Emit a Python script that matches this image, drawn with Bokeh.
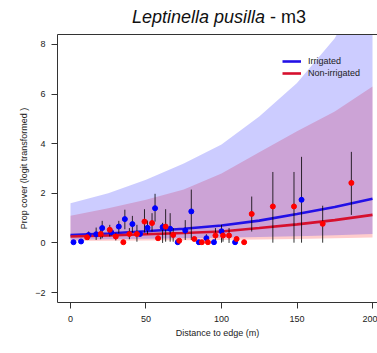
from bokeh.plotting import figure
from bokeh.layouts import column
from bokeh.models import (LinearAxis, FixedTicker, Legend, LegendItem, Range1d, Div)
from bokeh.embed import file_html
from bokeh.resources import INLINE

# ---- fitted curves and confidence bands ----
fit_x = [0, 25, 50, 75, 100, 125, 150, 175, 200]
irr_fit = [0.32, 0.38, 0.47, 0.57, 0.70, 0.90, 1.17, 1.45, 1.78]
irr_lo = [0.13, 0.15, 0.17, 0.19, 0.21, 0.24, 0.27, 0.31, 0.36]
irr_hi = [1.60, 2.00, 2.55, 3.20, 3.97, 5.10, 6.45, 8.25, 11.00]
non_fit = [0.26, 0.30, 0.35, 0.40, 0.46, 0.60, 0.75, 0.92, 1.13]
non_lo = [0.08, 0.09, 0.10, 0.11, 0.12, 0.14, 0.16, 0.19, 0.22]
non_hi = [1.10, 1.40, 1.74, 2.15, 2.80, 3.65, 4.50, 5.30, 6.30]

# ---- observed means with error bars ----
irr_x = [2, 7, 12, 17, 21, 27, 32, 36, 41, 46, 51, 56, 61, 66, 71, 76, 80, 85, 90, 95, 100, 109, 153]
irr_y = [0.03, 0.06, 0.32, 0.35, 0.60, 0.43, 0.66, 0.96, 0.76, 0.36, 0.61, 1.40, 0.64, 0.57,
         0.03, 0.50, 1.27, 0.03, 0.19, 0.03, 0.47, 0.03, 1.74]
irr_bar_lo = [0.03, 0.06, 0.12, 0.12, 0.19, 0.30, 0.39, 0.55, 0.42, 0.36, 0.35, 0.86, 0.00, 0.05,
              0.03, 0.12, 0.12, 0.03, 0.05, 0.03, 0.01, 0.03, 0.01]
irr_bar_hi = [0.03, 0.06, 0.46, 0.62, 0.89, 0.60, 0.89, 1.34, 1.09, 0.36, 0.90, 1.98, 0.81, 1.20,
              0.03, 0.92, 2.15, 0.03, 0.35, 0.03, 0.73, 0.03, 3.47]

non_x = [11, 20, 26, 30, 35, 39, 44, 49, 54, 58, 63, 68, 72, 82, 87, 91, 96, 101, 105, 110,
         115, 120, 134, 148, 167, 186]
non_y = [0.23, 0.36, 0.53, 0.26, 0.03, 0.36, 0.36, 0.86, 0.80, 0.19, 0.66, 0.32, 0.09, 0.16,
         0.03, 0.03, 0.30, 0.30, 0.30, 0.16, 0.03, 1.17, 1.47, 1.47, 0.77, 2.42]
non_bar_lo = [0.23, 0.15, 0.26, 0.10, 0.03, 0.15, 0.05, 0.42, 0.46, 0.19, 0.05, 0.05, 0.05, 0.16,
              0.03, 0.03, 0.08, 0.05, 0.00, 0.10, 0.03, 0.46, 0.01, 0.01, 0.01, 1.13]
non_bar_hi = [0.23, 0.60, 0.73, 0.40, 0.03, 0.60, 0.73, 1.36, 1.20, 0.19, 1.36, 0.60, 0.15, 0.16,
              0.03, 0.03, 0.60, 0.50, 0.60, 0.25, 0.03, 1.87, 2.86, 2.86, 1.50, 3.67]

x_ticks = [0, 50, 100, 150, 200]
y_ticks = [-2, 0, 2, 4, 6, 8]
series_labels = ["Irrigated", "Non-irrigated"]

FONT = "Liberation Sans"
AX = "#333333"
TXT = "#222222"

title = Div(
    text=('<div style="padding-top:8px;margin-left:132px;font-family:\'Liberation Sans\';'
          'font-size:18px;line-height:18px;color:#111111;white-space:nowrap;">'
          '<i>Leptinella pusilla</i> - m3</div>'),
    width=377, height=28, margin=0)

p = figure(width=377, height=325, output_backend="svg", toolbar_location=None,
           x_range=Range1d(-8.6, 203.3), y_range=Range1d(-2.4, 8.4),
           min_border_left=57, min_border_right=0, min_border_top=6, min_border_bottom=51,
           x_axis_label="Distance to edge (m)",
           y_axis_label="Prop cover (logit transformed )", margin=0)
p.outline_line_color = None
p.grid.visible = False
p.background_fill_color = "white"
p.border_fill_color = "white"

# bands
p.varea(x=fit_x, y1=non_lo, y2=non_hi, fill_color="red", fill_alpha=0.2)
p.varea(x=fit_x, y1=irr_lo, y2=irr_hi, fill_color="blue", fill_alpha=0.2)

# fitted lines
l_irr = p.line(fit_x, irr_fit, line_color="#2210e6", line_width=2.6)
l_non = p.line(fit_x, non_fit, line_color="#d6102e", line_width=2.6)

# error bars
p.segment(x0=irr_x, y0=irr_bar_lo, x1=irr_x, y1=irr_bar_hi, line_color="black", line_width=1, line_alpha=0.8)
p.segment(x0=non_x, y0=non_bar_lo, x1=non_x, y1=non_bar_hi, line_color="black", line_width=1, line_alpha=0.8)

# points
p.scatter(irr_x, irr_y, size=5, fill_color="blue", line_color="blue")
p.scatter(non_x, non_y, size=5, fill_color="red", line_color="red")

# axes styling
for ax in (p.xaxis[0], p.yaxis[0]):
    ax.axis_line_color = AX
    ax.major_tick_line_color = AX
    ax.major_tick_out = 6
    ax.major_tick_in = 0
    ax.minor_tick_line_color = None
    ax.major_label_text_font = FONT
    ax.major_label_text_font_size = "9px"
    ax.major_label_text_color = TXT
    ax.axis_label_text_font = FONT
    ax.axis_label_text_font_size = "9px"
    ax.axis_label_text_font_style = "normal"
    ax.axis_label_text_color = TXT
p.xaxis[0].ticker = FixedTicker(ticks=x_ticks)
p.yaxis[0].ticker = FixedTicker(ticks=y_ticks)
p.xaxis[0].major_label_standoff = 7
p.yaxis[0].major_label_standoff = 6
p.xaxis[0].axis_label_standoff = 3
p.yaxis[0].axis_label_standoff = 3

top = LinearAxis(ticker=FixedTicker(ticks=[]), axis_line_color=AX,
                 major_tick_line_color=None, minor_tick_line_color=None,
                 major_label_text_font_size="0px")
p.add_layout(top, "above")

# legend
legend = Legend(items=[LegendItem(label=series_labels[0], renderers=[l_irr]),
                       LegendItem(label=series_labels[1], renderers=[l_non])],
                location=(225, 223), background_fill_alpha=0, border_line_color=None,
                padding=0, margin=0, spacing=0, glyph_width=19, glyph_height=12,
                label_height=12, label_standoff=7, label_text_font=FONT,
                label_text_font_size="9px", label_text_color=TXT)
p.add_layout(legend)

layout = column(title, p, spacing=0, margin=0)
open("out.html", "w").write(file_html(layout, INLINE))
